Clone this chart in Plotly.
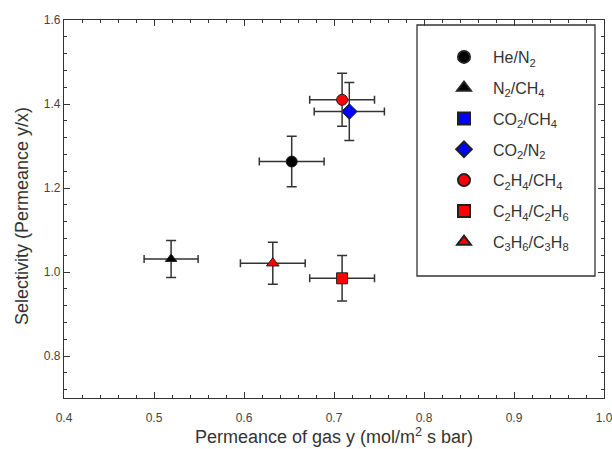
import plotly.graph_objects as go

# Gas-pair selectivity vs. permeance of the faster gas
pairs = ["He/N<sub>2</sub>", "N<sub>2</sub>/CH<sub>4</sub>", "CO<sub>2</sub>/CH<sub>4</sub>",
         "CO<sub>2</sub>/N<sub>2</sub>", "C<sub>2</sub>H<sub>4</sub>/CH<sub>4</sub>",
         "C<sub>2</sub>H<sub>4</sub>/C<sub>2</sub>H<sub>6</sub>",
         "C<sub>3</sub>H<sub>6</sub>/C<sub>3</sub>H<sub>8</sub>"]
permeance = [0.653, 0.519, None, 0.717, 0.709, 0.709, 0.632]
permeance_err = [0.036, 0.030, None, 0.039, 0.036, 0.036, 0.036]
selectivity = [1.263, 1.031, None, 1.382, 1.410, 0.985, 1.021]
selectivity_err = [0.060, 0.044, None, 0.069, 0.063, 0.054, 0.050]

symbols = ["circle", "triangle-up", "square", "diamond", "circle", "square", "triangle-up"]
colors = ["#000000", "#000000", "#0000ff", "#0000ff", "#ff0000", "#ff0000", "#ff0000"]
sizes = [11, 10, 10, 12, 11, 11, 11]

fig = go.Figure()
for i, name in enumerate(pairs):
    fig.add_trace(go.Scatter(
        x=[permeance[i]], y=[selectivity[i]],
        mode="markers", name=name, legendgroup=str(i),
        marker=dict(symbol=symbols[i], color=colors[i], size=sizes[i],
                    line=dict(color="#202020", width=1)),
        error_x=dict(type="data", array=[permeance_err[i]], color="#333333",
                     thickness=1.5, width=4),
        error_y=dict(type="data", array=[selectivity_err[i]], color="#333333",
                     thickness=1.5, width=5),
    ))

axis_common = dict(
    showline=True, linecolor="#333333", linewidth=1.3, mirror="ticks",
    ticks="inside", ticklen=6, tickcolor="#333333", tickwidth=1.2,
    showgrid=False, zeroline=False, automargin=False,
    tickfont=dict(size=12, color="#444444"),
)

fig.update_xaxes(range=[0.4, 1.0], dtick=0.1, tick0=0, tickformat=".1f",
                 ticklabelstandoff=8, ticklabeloverflow="allow",
                 minor=dict(ticks="inside", dtick=0.02, ticklen=3, tickcolor="#333333"),
                 title=dict(text="Permeance of gas y (mol/m<sup>2</sup> s bar)",
                            font=dict(size=18, color="#333333"), standoff=2),
                 **axis_common)
fig.update_yaxes(range=[0.7, 1.6], dtick=0.2, tick0=0, tickformat=".1f",
                 minor=dict(ticks="inside", dtick=0.04, tick0=0, ticklen=3, tickcolor="#333333"),
                 **axis_common)

# Y-axis title placed close to the left edge
fig.add_annotation(text="Selectivity (Permeance y/x)", textangle=-90,
                   xref="paper", yref="paper",
                   x=(22 - 64) / 540, y=(398 - 216) / 378,
                   xanchor="center", yanchor="middle", showarrow=False,
                   font=dict(size=18, color="#333333"))

# Legend frame
fig.add_shape(type="rect", xref="paper", yref="paper",
              x0=(417 - 64) / 540, x1=(595 - 64) / 540,
              y0=(398 - 276) / 378, y1=(398 - 25) / 378,
              line=dict(color="#333333", width=1.3), fillcolor="white", layer="below")

fig.update_layout(
    width=612, height=449,
    margin=dict(l=64, r=8, t=20, b=51),
    paper_bgcolor="white", plot_bgcolor="white",
    font=dict(family="Liberation Sans, Arial, sans-serif", color="#333333"),
    showlegend=True,
    legend=dict(x=(435 - 64) / 540, y=(398 - 40) / 378, xanchor="left", yanchor="top",
                bgcolor="rgba(0,0,0,0)", borderwidth=0,
                font=dict(size=16, color="#333333"),
                itemwidth=48, tracegroupgap=7, itemsizing="constant"),
)

fig.write_html("out.html")
